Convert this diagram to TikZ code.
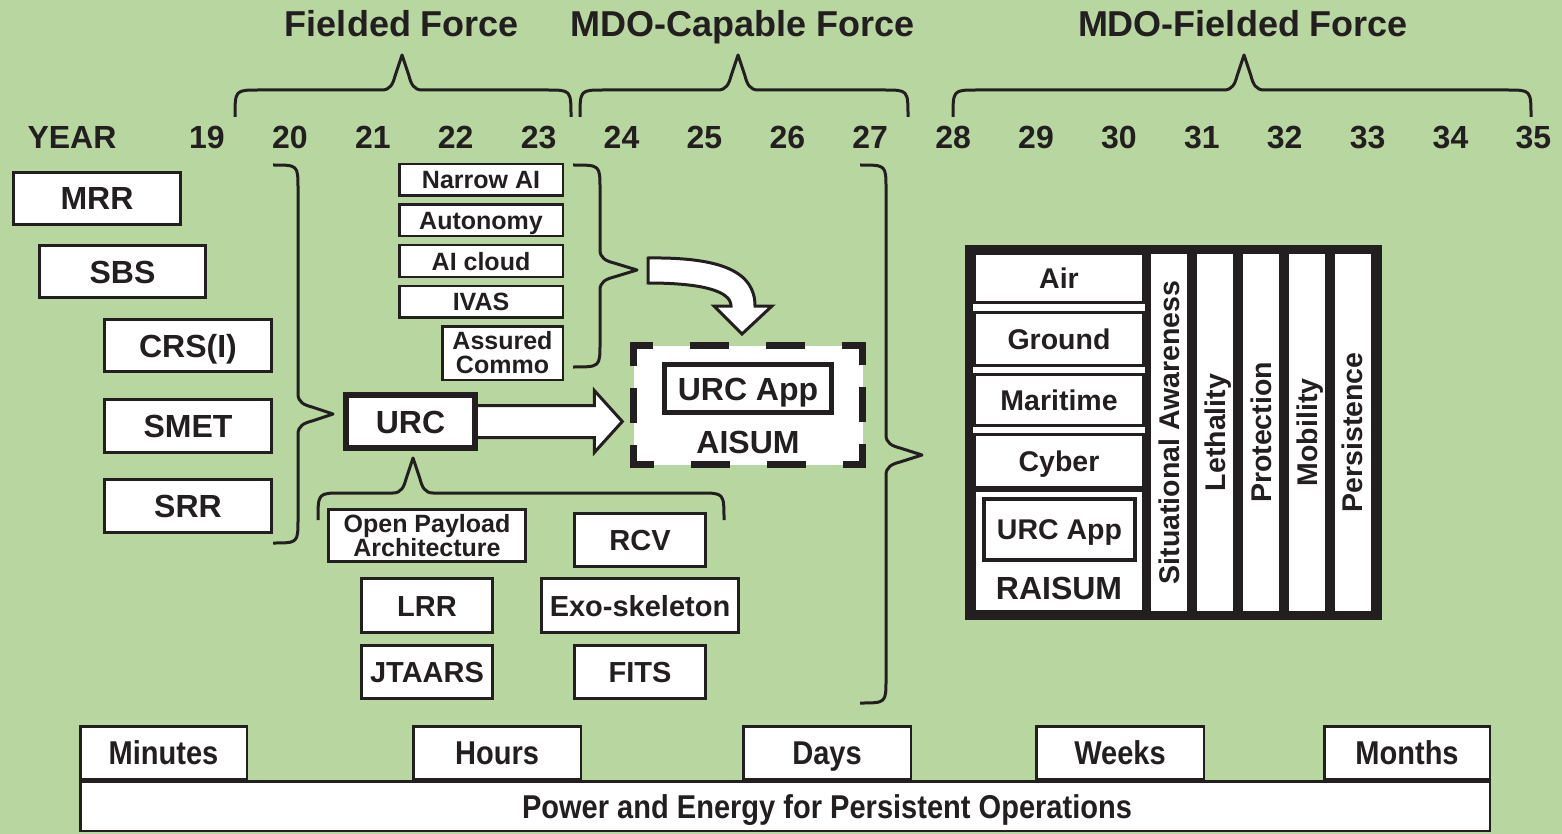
\documentclass[tikz,border=0pt]{standalone}
\usepackage{fontspec}
\setmainfont{Liberation Sans}
\newfontfamily\tabfont[FakeStretch=0.88]{Liberation Sans Bold}
\usetikzlibrary{calc}
\definecolor{bg}{RGB}{184,214,160}
\definecolor{ink}{RGB}{35,31,32}
\newcommand\fz[1]{\fontsize{#1}{#1}\selectfont}
\newcommand\fzl[2]{\fontsize{#1}{#2}\selectfont}
\newcommand\hbrace[6]{%
 \draw[brace] (#1,#4) .. controls (#1,#5) .. (#1+24,#5) -- (#2-20,#5)
   .. controls (#2-12,#5) and (#2-9,#5-6) .. (#2-7,#5-14) -- (#2,#6) -- (#2+7,#5-14)
   .. controls (#2+9,#5-6) and (#2+12,#5) .. (#2+20,#5) -- (#3-24,#5) .. controls (#3,#5) .. (#3,#4);}
\newcommand\vbrace[6]{%
 \draw[brace] (#1,#4) .. controls (#2,#4) .. (#2,#4+24) -- (#2,#5-20)
   .. controls (#2,#5-12) and (#2+6,#5-9) .. (#2+14,#5-7) -- (#3,#5) -- (#2+14,#5+7)
   .. controls (#2+6,#5+9) and (#2,#5+12) .. (#2,#5+20) -- (#2,#6-24) .. controls (#2,#6) .. (#1,#6);}
\begin{document}
\begin{tikzpicture}[x=1pt,y=-1pt,
 every node/.style={text=ink, inner sep=0pt},
 sz/.style 2 args={minimum width=#1pt, minimum height=#2pt},
 box/.style={draw=ink, fill=white, line width=3pt, font=\fz{32}\bfseries, text height=23pt, text depth=0pt},
 mbox/.style={draw=ink, fill=white, line width=3pt, font=\fz{29}\bfseries, text height=21pt, text depth=0pt},
 twoline/.style={draw=ink, fill=white, font=\fzl{25}{24}\bfseries, align=center},
 sbox/.style={draw=ink, fill=white, line width=2.5pt, font=\fz{25}\bfseries, text height=18pt, text depth=0pt},
 rowbox/.style={draw=ink, fill=white, line width=3pt, font=\fz{28.5}\bfseries, text height=20.5pt, text depth=0pt},
 col/.style={draw=ink, fill=white, line width=2.5pt, rotate=90, minimum width=358.5pt, minimum height=38.5pt, font=\fz{28.5}\bfseries, text height=20.5pt, text depth=0pt},
 tab/.style={draw=ink, fill=white, line width=2.5pt, font=\fz{33}\tabfont, text height=23.6pt, text depth=0pt},
 brace/.style={draw=ink, line width=3pt, line join=round},
 fat/.style={draw=ink, fill=white, line width=3pt, line join=miter},
 dsh/.style={draw=ink, line width=7pt, line cap=rect},
 title/.style={font=\fz{36}\bfseries, anchor=base},
 yr/.style={font=\fz{32}\bfseries, anchor=base},
]
\useasboundingbox (0,0) rectangle (1562,834);
\fill[bg] (0,0) rectangle (1562,834);

% titles
\node[title] (tff) at (402,37) {Fielded Force};
\node[title] (tmc) at (743,37) {MDO-Capable Force};
\node[title] (tmf) at (1243,37) {MDO-Fielded Force};

% years
\node[yr] (year) at (72,149) {YEAR};
\foreach \n [count=\i from 0] in {19,...,35}
  \node[yr] (y\n) at (207+\i*82.9,149) {\n};

% top braces
\hbrace{235}{402}{571}{117}{90}{55}
\hbrace{580}{738}{908}{117}{90}{55}
\hbrace{953}{1244}{1531}{117}{90}{55}

% left boxes
\node[box, sz={167}{52}] (mrr) at (97,198.5) {MRR};
\node[box, sz={166}{52}] (sbs) at (122.5,271.5) {SBS};
\node[box, sz={167}{52}] (crs) at (188,345.5) {CRS(I)};
\node[box, sz={167}{53}] (smet) at (188,426) {SMET};
\node[box, sz={167}{53}] (srr) at (188,506) {SRR};
\vbrace{273}{298}{333}{165}{414}{543}

% AI group
\node[sbox, sz={163.5}{31.5}] (nai) at (481,180) {Narrow AI};
\node[sbox, sz={163.5}{31.5}] (auto) at (481,220.5) {Autonomy};
\node[sbox, sz={163.5}{31.5}] (aic) at (481,261) {AI cloud};
\node[sbox, sz={163.5}{31.5}] (ivas) at (481,301.5) {IVAS};
\node[twoline, line width=2.5pt, sz={120.5}{53.5}] (ac) at (502.5,353) {Assured\\Commo};
\vbrace{573}{600}{637}{165}{270}{367}

% URC
\node[box, line width=6pt, sz={129}{53}] (urc) at (410.5,421.5) {URC};

% AISUM
\node[fill=white, sz={229}{119}] (aisum) at (748,405) {};
\draw[dsh, dash pattern=on 16.5pt off 44pt on 32pt off 44pt on 32pt off 44pt on 16.5pt] (aisum.north west) -- (aisum.north east);
\draw[dsh, dash pattern=on 16.5pt off 44pt on 32pt off 44pt on 32pt off 44pt on 16.5pt] (aisum.south east) -- (aisum.south west);
\draw[dsh, dash pattern=on 16.5pt off 29pt on 28pt off 29pt on 16.5pt] (aisum.north east) -- (aisum.south east);
\draw[dsh, dash pattern=on 16.5pt off 29pt on 28pt off 29pt on 16.5pt] (aisum.south west) -- (aisum.north west);
\node[box, line width=5pt, sz={167}{48}] (uapp) at (748,388.5) {URC App};
\node[font=\fz{32}\bfseries] (aisumlbl) at (748,442) {AISUM};

% straight fat arrow URC -> AISUM
\coordinate (as) at (urc.east);
\coordinate (at) at ($(aisum.west |- urc.east)+(-11,0)$);
\fill[white] ($(as)+(0,-16)$) -- ($(at)+(-28,-16)$) -- ($(at)+(-28,-31)$) -- (at) -- ($(at)+(-28,31)$) -- ($(at)+(-28,16)$) -- ($(as)+(0,16)$) -- cycle;
\draw[ink, line width=3pt, line join=miter] ($(as)+(0,-16)$) -- ($(at)+(-28,-16)$) -- ($(at)+(-28,-31)$) -- (at) -- ($(at)+(-28,31)$) -- ($(at)+(-28,16)$) -- ($(as)+(0,16)$);

% curved fat arrow
\filldraw[fat] (648,258) .. controls (722,257) and (755,272) .. (755,306) -- (772,306) -- (742,334) -- (714,306) -- (731,306) .. controls (731,291) and (702,283) .. (648,283) -- cycle;

% URC lower brace
\hbrace{318}{413}{724}{520}{493}{458}

% lower boxes
\node[twoline, line width=3pt, sz={197}{52}] (opa) at (427,535.5) {Open Payload\\Architecture};
\node[mbox, sz={131}{53}] (rcv) at (640,540) {RCV};
\node[mbox, sz={131}{54}] (lrr) at (427,605.5) {LRR};
\node[mbox, sz={197}{54}] (exo) at (640,605.5) {Exo-skeleton};
\node[mbox, sz={131}{53}] (jta) at (427,672) {JTAARS};
\node[mbox, sz={131}{53}] (fits) at (640,672) {FITS};

% big brace
\vbrace{860}{886}{922}{165}{455}{703}

% RAISUM block
\node[draw=ink, fill=white, line width=8pt, sz={409}{367}] (frame) at (1173.5,432.5) {};
\fill[ink] (1145,249) rectangle (1378,616);
\node[rowbox, sz={169}{49}] (air) at (1059,278) {Air};
\node[rowbox, sz={169}{53}] (gnd) at (1059,339) {Ground};
\node[rowbox, sz={169}{51}] (mar) at (1059,400) {Maritime};
\node[rowbox, sz={169}{53}] (cyb) at (1059,461) {Cyber};
\node[rowbox, sz={169}{121}] (rai) at (1059,551) {};
\node[rowbox, line width=4pt, sz={151}{61}] (uapp2) at (1059.5,529.5) {URC App};
\node[font=\fz{32}\bfseries] (railbl) at (1059,588) {RAISUM};
\node[col] (sa) at (1169,432.5) {Situational Awareness};
\node[col] (leth) at (1215,432.5) {Lethality};
\node[col] (prot) at (1261,432.5) {Protection};
\node[col] (mob) at (1307,432.5) {Mobility};
\node[col] (pers) at (1352.5,432.5) {Persistence};

% bottom timeline
\node[tab, sz={1409.5}{49.5}] (pwr) at (785,806) {};
\node[tab, sz={166.5}{52.5}] (mins) at (163.5,752.5) {Minutes};
\node[tab, sz={167.5}{52.5}] (hrs) at (497,752.5) {Hours};
\node[tab, sz={167.5}{52.5}] (days) at (827,752.5) {Days};
\node[tab, sz={167.5}{52.5}] (wks) at (1120,752.5) {Weeks};
\node[tab, sz={165.5}{52.5}] (mons) at (1407,752.5) {Months};
\node[font=\fz{33}\tabfont, text height=23.6pt, text depth=0pt] (pwrlbl) at (827,807) {Power and Energy for Persistent Operations};
\end{tikzpicture}
\end{document}
